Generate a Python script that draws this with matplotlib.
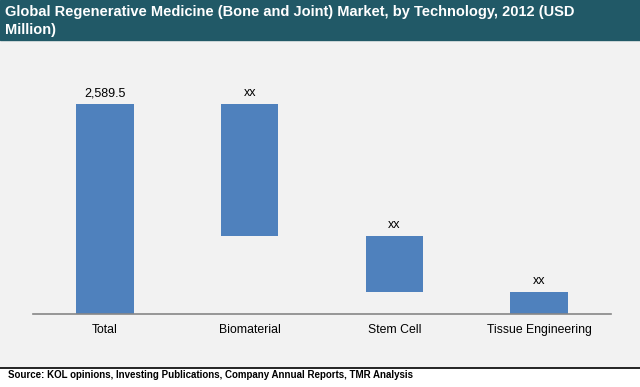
import matplotlib.pyplot as plt
import numpy as np

# data (waterfall, USD million)
categories = ['Total', 'Biomaterial', 'Stem Cell', 'Tissue Engineering']
total = 2589.5
segments = [1627.7, 690.5, 271.3]
labels = ['2,589.5', 'xx', 'xx', 'xx']

TITLE = 'Global Regenerative Medicine (Bone and Joint) Market, by Technology, 2012 (USD\nMillion)'
SOURCE = 'Source: KOL opinions, Investing Publications, Company Annual Reports, TMR Analysis'

BAR = '#4F81BD'
BAND = '#215967'
BG = '#F2F2F2'

plt.rcParams['font.family'] = ['Liberation Sans', 'DejaVu Sans']

heights = [total] + segments
tops = [total] + list(total - np.cumsum([0] + segments[:-1]))
bottoms = [0] + list(total - np.cumsum(segments))

fig = plt.figure(figsize=(6.4, 3.87), dpi=100)
fig.patch.set_facecolor('white')

# grey plot panel and title band
fig.patches.append(plt.Rectangle((0, (387 - 367) / 387), 1, 347 / 387,
                                 transform=fig.transFigure, color=BG, zorder=-2))
fig.patches.append(plt.Rectangle((0, (387 - 40) / 387), 1, 40 / 387,
                                 transform=fig.transFigure, color=BAND, zorder=-1))
fig.add_artist(plt.Line2D([0, 1], [(387 - 368) / 387] * 2, transform=fig.transFigure,
                          color='black', lw=1.2))

fig.text(5 / 640, 1 - 5 / 387, TITLE, color='white', fontsize=10.5, fontweight='bold',
         va='top', ha='left', linespacing=1.35)
fig.text(8 / 640, 1 - 375 / 387, SOURCE, color='black', fontsize=7, fontweight='bold',
         va='center', ha='left')

ax = fig.add_axes([32.6 / 640, (387 - 314) / 387, 578.8 / 640, 264 / 387])
ax.set_facecolor('none')
x = np.arange(len(categories))
ax.bar(x, heights, bottom=bottoms, width=0.395, color=BAR, zorder=2)
for xi, t, lab in zip(x, tops, labels):
    ax.annotate(lab, (xi, t), xytext=(0, 3.5), textcoords='offset points',
                ha='center', va='bottom', fontsize=9)

ax.set_xlim(-0.5, 3.5)
ax.set_ylim(0, 264 / 210 * total)
ax.set_xticks(x)
ax.set_xticklabels(categories, fontsize=8.8)
ax.tick_params(axis='x', length=0, pad=7)
ax.set_yticks([])
for s in ['top', 'right', 'left']:
    ax.spines[s].set_visible(False)
ax.spines['bottom'].set_color('#878787')
ax.spines['bottom'].set_linewidth(1.2)

fig.savefig('out.png', dpi=100)
